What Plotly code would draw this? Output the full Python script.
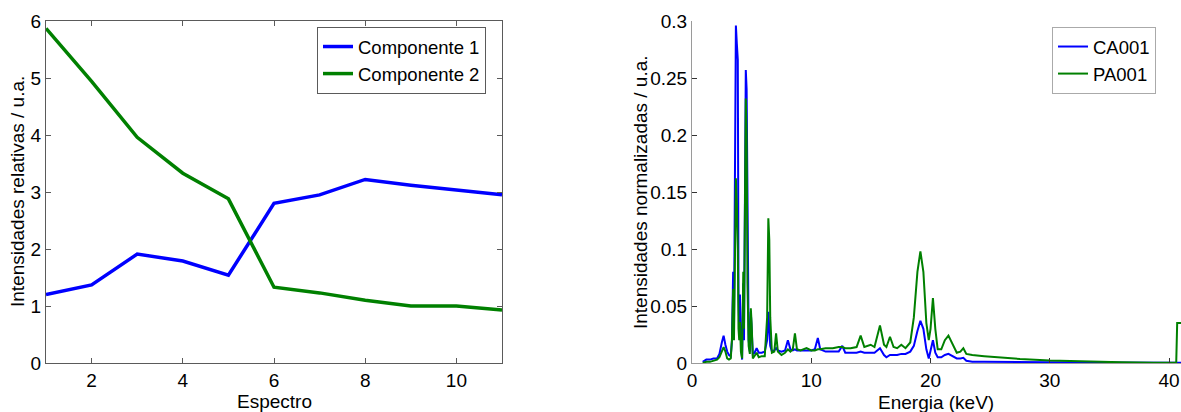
import plotly.graph_objects as go

# ---- Left panel data ----
espectro = [1, 2, 3, 4, 5, 6, 7, 8, 9, 10, 11]
componente1 = [1.20, 1.37, 1.91, 1.79, 1.54, 2.80, 2.95, 3.22, 3.12, 3.03, 2.95]
componente2 = [5.87, 4.94, 3.96, 3.33, 2.88, 1.33, 1.23, 1.10, 1.00, 1.00, 0.93]
left_yticks = [0, 1, 2, 3, 4, 5, 6]
left_xticks = [2, 4, 6, 8, 10]

# ---- Right panel data ----
energia = [0.9, 1.2, 1.5, 1.8, 2.1, 2.3, 2.5, 2.65, 2.8, 2.95, 3.1, 3.25, 3.35, 3.45, 3.52,
           3.6, 3.68, 3.76, 3.84, 3.9, 3.96, 4.02, 4.1, 4.2, 4.3, 4.36, 4.44, 4.51, 4.58,
           4.65, 4.75, 4.85, 4.93, 5.0, 5.1, 5.25, 5.42, 5.6, 5.85, 6.1, 6.3, 6.4, 6.48,
           6.56, 6.7, 6.9, 7.05, 7.2, 7.5, 7.8, 8.04, 8.25, 8.45, 8.63, 8.8, 9.1, 9.6,
           10.0, 10.3, 10.55, 10.75, 11.2, 11.8, 12.3, 12.6, 12.85, 13.3, 13.8, 14.14,
           14.45, 14.98, 15.3, 15.76, 16.1, 16.3, 16.6, 16.9, 17.2, 17.55, 17.9, 18.3,
           18.6, 18.9, 19.15, 19.4, 19.65, 19.85, 20.0, 20.2, 20.4, 20.6, 20.9, 21.2,
           21.5, 21.8, 22.2, 22.5, 22.75, 23.0, 23.5, 24.5, 25.5, 27.5, 30.0, 33.0,
           36.0, 38.7, 40.6, 40.68, 41.0]
ca001 = [0.001, 0.003, 0.003, 0.004, 0.004, 0.008, 0.018, 0.024, 0.016, 0.010, 0.007, 0.006,
         0.020, 0.080, 0.030, 0.200, 0.296, 0.280, 0.266, 0.060, 0.030, 0.060, 0.020, 0.003,
         0.070, 0.020, 0.200, 0.257, 0.240, 0.100, 0.020, 0.010, 0.045, 0.030, 0.008, 0.009,
         0.013, 0.009, 0.009, 0.010, 0.020, 0.045, 0.030, 0.015, 0.010, 0.011, 0.013, 0.011,
         0.010, 0.011, 0.020, 0.012, 0.011, 0.012, 0.011, 0.011, 0.011, 0.011, 0.012, 0.022,
         0.012, 0.010, 0.010, 0.010, 0.015, 0.009, 0.009, 0.009, 0.010, 0.009, 0.009, 0.009,
         0.013, 0.007, 0.005, 0.007, 0.007, 0.007, 0.008, 0.008, 0.010, 0.015, 0.028, 0.037,
         0.030, 0.012, 0.004, 0.010, 0.020, 0.009, 0.005, 0.005, 0.007, 0.008, 0.006, 0.004,
         0.004, 0.0045, 0.002, 0.0012, 0.0012, 0.001, 0.0009, 0.0007, 0.0005, 0.0003, 0.0002,
         0.0002, 0.0002, 0.0002]
pa001 = [0.000, 0.001, 0.001, 0.002, 0.003, 0.005, 0.010, 0.014, 0.010, 0.004, 0.003, 0.004,
         0.020, 0.065, 0.020, 0.120, 0.162, 0.140, 0.100, 0.030, 0.020, 0.036, 0.010, 0.004,
         0.080, 0.030, 0.180, 0.232, 0.200, 0.070, 0.015, 0.008, 0.048, 0.035, 0.004, 0.006,
         0.009, 0.005, 0.006, 0.006, 0.040, 0.127, 0.108, 0.040, 0.009, 0.010, 0.026, 0.010,
         0.007, 0.009, 0.012, 0.010, 0.012, 0.026, 0.012, 0.011, 0.013, 0.011, 0.011, 0.012,
         0.012, 0.013, 0.013, 0.014, 0.014, 0.013, 0.013, 0.014, 0.024, 0.014, 0.016, 0.014,
         0.033, 0.016, 0.014, 0.023, 0.014, 0.013, 0.016, 0.013, 0.018, 0.040, 0.080, 0.098,
         0.080, 0.035, 0.020, 0.030, 0.057, 0.030, 0.012, 0.012, 0.020, 0.024, 0.017, 0.009,
         0.010, 0.013, 0.008, 0.007, 0.006, 0.0052, 0.0035, 0.0022, 0.0012, 0.0006, 0.0003,
         0.0003, 0.035, 0.035]
right_yticks = [0, 0.05, 0.1, 0.15, 0.2, 0.25, 0.3]
right_xticks = [0, 10, 20, 30, 40]

W, H = 1181, 412
FONT = "Liberation Sans, Arial, Helvetica, sans-serif"
FS = 19
LFS = 18.5
BLUE = "#0000ff"
GREEN = "#008000"
LEFT_AX = "#5a5a5a"
RIGHT_AX = "#9a9a9a"

fig = go.Figure()
fig.add_trace(go.Scatter(x=espectro, y=componente1, mode="lines", name="Componente 1",
                         line=dict(color=BLUE, width=3.5), xaxis="x", yaxis="y",
                         legend="legend"))
fig.add_trace(go.Scatter(x=espectro, y=componente2, mode="lines", name="Componente 2",
                         line=dict(color=GREEN, width=3.5), xaxis="x", yaxis="y",
                         legend="legend"))
fig.add_trace(go.Scatter(x=energia, y=ca001, mode="lines", name="CA001",
                         line=dict(color=BLUE, width=2), xaxis="x2", yaxis="y2",
                         legend="legend2"))
fig.add_trace(go.Scatter(x=energia, y=pa001, mode="lines", name="PA001",
                         line=dict(color=GREEN, width=2), xaxis="x2", yaxis="y2",
                         legend="legend2"))

ly0, ly1 = (H - 363) / H, (H - 21) / H

axis_common = dict(showgrid=False, zeroline=False, ticks="inside", ticklen=5,
                   tickfont=dict(family=FONT, size=FS, color="#000"),
                   showline=True, linewidth=1, ticklabeloverflow="allow",
                   automargin=False)

fig.update_layout(
    template="none",
    width=W, height=H, autosize=False,
    margin=dict(l=0, r=0, t=0, b=0, pad=0),
    paper_bgcolor="white", plot_bgcolor="white",
    font=dict(family=FONT, size=FS, color="#000"),
    xaxis=dict(domain=[46 / W, 502 / W], range=[1, 11], tickvals=left_xticks,
               mirror="ticks", linecolor=LEFT_AX, tickcolor=LEFT_AX, anchor="y",
               **axis_common),
    yaxis=dict(domain=[ly0, ly1], range=[0, 6], tickvals=left_yticks,
               mirror="ticks", linecolor=LEFT_AX, tickcolor=LEFT_AX, anchor="x",
               **axis_common),
    xaxis2=dict(domain=[692 / W, 1.0], range=[0, 41], tickvals=right_xticks,
                linecolor=RIGHT_AX, tickcolor="#333", anchor="y2", **axis_common),
    yaxis2=dict(domain=[ly0, ly1], range=[0, 0.3], tickvals=right_yticks,
                linecolor=RIGHT_AX, tickcolor="#333", anchor="x2", **axis_common),
    legend=dict(x=317 / W, y=(H - 27) / H, xanchor="left", yanchor="top",
                bgcolor="white", bordercolor=LEFT_AX, borderwidth=1,
                font=dict(family=FONT, size=LFS), tracegroupgap=0),
    legend2=dict(x=1052 / W, y=(H - 27) / H, xanchor="left", yanchor="top",
                 bgcolor="white", bordercolor="#aaaaaa", borderwidth=1,
                 font=dict(family=FONT, size=LFS), tracegroupgap=0),
    showlegend=True,
)

fig.add_annotation(text="Espectro", x=274 / W, y=(H - 401) / H, xref="paper", yref="paper",
                   showarrow=False, font=dict(family=FONT, size=FS), xanchor="center",
                   yanchor="middle")
fig.add_annotation(text="Energia (keV)", x=936 / W, y=(H - 402) / H, xref="paper",
                   yref="paper", showarrow=False, font=dict(family=FONT, size=FS),
                   xanchor="center", yanchor="middle")
fig.add_annotation(text="Intensidades relativas / u.a.", x=17 / W, y=(H - 192) / H,
                   xref="paper", yref="paper", showarrow=False, textangle=-90,
                   font=dict(family=FONT, size=FS), xanchor="center", yanchor="middle")
fig.add_annotation(text="Intensidades normalizadas / u.a.", x=640 / W, y=(H - 192) / H,
                   xref="paper", yref="paper", showarrow=False, textangle=-90,
                   font=dict(family=FONT, size=FS), xanchor="center", yanchor="middle")

fig.write_html("out.html", config={"displayModeBar": False},
               post_script="document.body.style.margin='0';document.body.style.padding='0';")
